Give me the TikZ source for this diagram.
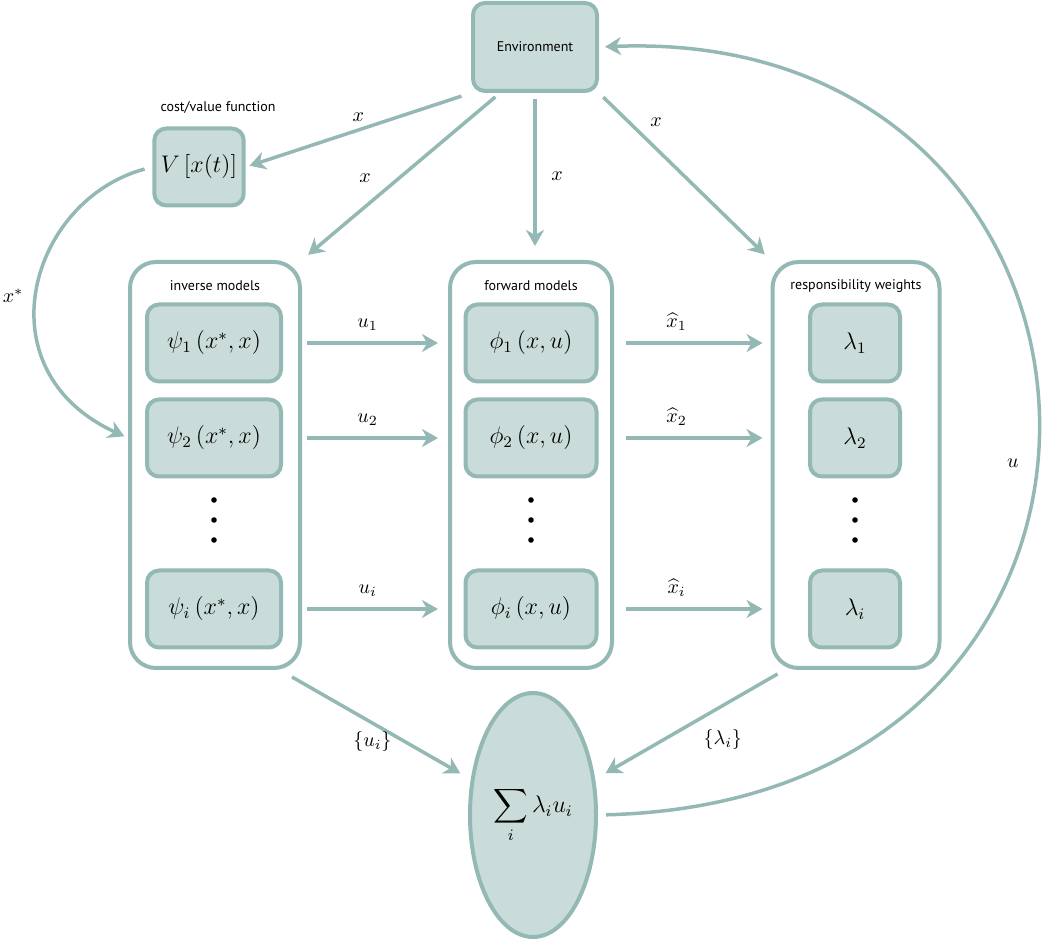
\documentclass[tikz,border=0pt]{standalone}
\usepackage{fontspec}
\usepackage{amsmath,amssymb}
\setsansfont{PT Sans}
\usetikzlibrary{arrows.meta,shapes.geometric}
\definecolor{edge}{HTML}{94B9B5}
\definecolor{boxfill}{HTML}{C9DCDA}
\tikzset{
  box/.style={draw=edge, fill=boxfill, line width=2pt, rounded corners=6pt, minimum height=38.5pt, font=\large},
  panel/.style={draw=edge, fill=white, line width=2pt, rounded corners=13pt, minimum height=203pt},
  tag/.style={font=\sffamily\fontsize{7}{8}\selectfont},
  flow/.style={draw=edge, line width=1.75pt, -{Stealth[length=8pt,width=9pt,inset=2.5pt]}},
}
\begin{document}
\begin{tikzpicture}[x=0.5pt,y=-0.5pt]
        \useasboundingbox (0,0) rectangle (1050,940);
        \node[box, minimum width=62pt, minimum height=44pt, tag] (env) at (535,47) {Environment};
        \node[tag] (costtag) at (218,108) {cost/value function};
        \node[box, minimum width=44pt] (cost) at (199,167) {$V\left[x(t)\right]$};
        \node[panel, minimum width=85pt] (inv) at (215,465) {};
        \node[panel, minimum width=81pt] (fwd) at (531,465) {};
        \node[panel, minimum width=83.5pt] (resp) at (856,465) {};
        \node[tag] (invtag) at (215,286) {inverse models};
        \node[tag] (fwdtag) at (531,286) {forward models};
        \node[tag] (resptag) at (856,286) {responsibility weights};
        \foreach \k/\s/\y in {1/1/343, 2/2/438, 3/i/609} {
          \node[box, minimum width=67pt] (psi\k) at (214,\y) {$\psi_\s\left(x^*,x\right)$};
          \node[box, minimum width=65.5pt] (phi\k) at (531,\y) {$\phi_\s\left(x,u\right)$};
          \node[box, minimum width=45pt] (lam\k) at (855,\y) {$\lambda_\s$};
          \draw[flow, shorten <=2.5pt, shorten >=5pt] (psi\k -| inv.east) to node[above=2pt, pos=0.45]{$u_\s$} (phi\k -| fwd.west);
          \draw[flow, shorten <=6pt, shorten >=4pt] (phi\k -| fwd.east) to node[above=2pt, pos=0.4]{$\widehat{x}_\s$} (lam\k -| resp.west);
        }
        \foreach \x in {214,531,855}
          \foreach \y in {500,520,540}
            \fill (\x,\y) circle (1.4pt);
        \node[ellipse, draw=edge, fill=boxfill, line width=2pt, minimum width=63pt, minimum height=122pt, inner sep=0pt, font=\large] (sum) at (533,815) {$\displaystyle\sum_i \lambda_i u_i$};
        \draw[flow, shorten <=5pt, shorten >=2pt] (env.south west) to node[above]{$x$} (cost.east);
        \draw[flow, shorten <=3pt, shorten >=4pt] ([xshift=-17.5pt]env.south) to node[above left=1pt, pos=0.6]{$x$} (inv.north east);
        \draw[flow, shorten <=3pt, shorten >=7pt] (env.south) to node[right=4pt]{$x$} (env.south |- fwd.north);
        \draw[flow, shorten <=3pt, shorten >=4pt] (env.south east) to node[above right, pos=0.25]{$x$} (resp.north west);
        \draw[flow, shorten <=4pt, shorten >=2pt] (cost.west) .. controls (30,200) and (-20,370) .. node[left=3pt, pos=0.52]{$x^*$} (inv.west |- psi2);
        \draw[flow, shorten >=6pt] ([xshift=-5pt,yshift=-3.5pt]inv.south east) to node[below, pos=0.45]{$\{u_i\}$} (sum);
        \draw[flow, shorten >=6pt] ([xshift=3.5pt,yshift=-2pt]resp.south west) to node[below=8pt, pos=0.3]{$\{\lambda_i\}$} (sum);
        \draw[flow, shorten <=4pt, shorten >=3pt] (sum.east) .. controls (1205,800) and (1160,25) .. node[left=4pt, pos=0.46]{$u$} (env.east);
      \end{tikzpicture}
\end{document}
